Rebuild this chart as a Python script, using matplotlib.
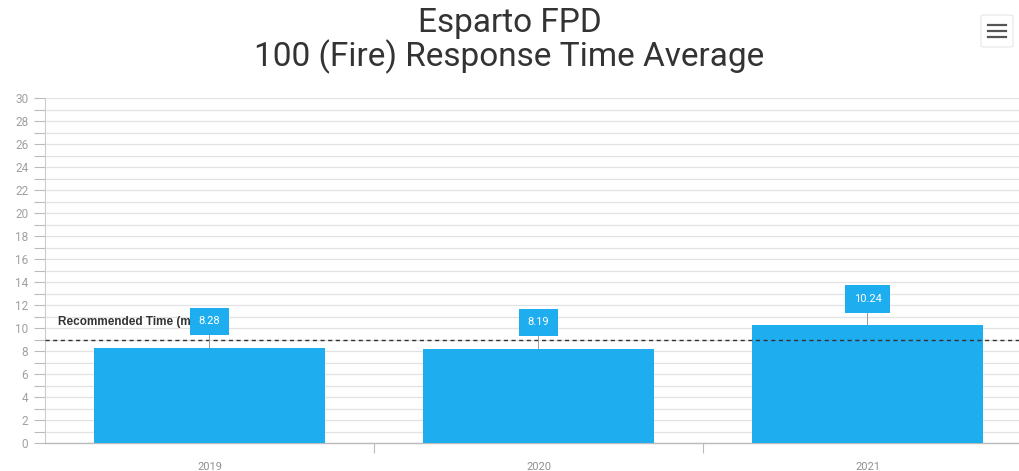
import matplotlib
matplotlib.use("Agg")
import matplotlib.pyplot as plt
from matplotlib.patches import FancyBboxPatch
from matplotlib.lines import Line2D
import numpy as np

plt.rcParams['font.family'] = ['Roboto', 'DejaVu Sans']

categories = ["2019", "2020", "2021"]
values = [8.28, 8.19, 10.24]
value_labels = ["8.28", "8.19", "10.24"]
recommended = 9
recommended_label = "Recommended Time (minutes)"
title_lines = ["Esparto FPD", "100 (Fire) Response Time Average"]
y_ticks = list(range(0, 31, 2))

W, H = 1019, 471
fig = plt.figure(figsize=(W / 100, H / 100), dpi=100)
fig.patch.set_facecolor("white")

left, right, top, bottom = 45, 1032, 98, 443
ax = fig.add_axes([left / W, (H - bottom) / H, (right - left) / W, (bottom - top) / H])

bar_color = "#1eaef0"
x = np.arange(len(categories))
ax.bar(x, values, width=0.7, color=bar_color, zorder=3)

ax.set_xlim(-0.5, len(categories) - 0.5)
ax.set_ylim(0, 30)

# grid
ax.set_yticks(y_ticks)
ax.set_yticks(range(0, 31), minor=True)
ax.yaxis.grid(True, which="both", color="#e2e2e2", lw=0.9, zorder=0)
ax.tick_params(axis="y", which="both", direction="out", length=8, color="#bbbbbb",
               width=0.8, labelsize=8.5, labelcolor="#a0a0a0", pad=4)

ax.set_xticks(x)
ax.set_xticklabels(categories)
ax.set_xticks(np.arange(len(categories) - 1) + 0.5, minor=True)
ax.tick_params(axis="x", which="major", length=0, labelsize=8, labelcolor="#909090", pad=14)
ax.tick_params(axis="x", which="minor", length=7, color="#bbbbbb", width=0.8)

for s in ["top", "right"]:
    ax.spines[s].set_visible(False)
ax.spines["left"].set_color("#cccccc")
ax.spines["bottom"].set_color("#bbbbbb")
ax.spines["left"].set_linewidth(0.8)
ax.spines["bottom"].set_linewidth(1.0)

# recommended line
ax.axhline(recommended, color="#333333", lw=1.0, ls=(0, (3, 2.5)), zorder=4)
ax.annotate(recommended_label, xy=(-0.5, recommended), xytext=(9, 8),
            textcoords="offset points", fontsize=8.5, fontweight="bold",
            family=["Liberation Sans", "DejaVu Sans"],
            color="#333333", ha="left", va="bottom", zorder=4)

# data labels
for xi, v, lab in zip(x, values, value_labels):
    ax.annotate(lab, xy=(xi, v), xytext=(0, 19), textcoords="offset points",
                ha="center", va="center", fontsize=8, color="white", zorder=6,
                bbox=dict(boxstyle="square,pad=0.8", fc=bar_color, ec="none"),
                arrowprops=dict(arrowstyle="-", color="#999999", lw=0.7,
                                shrinkA=0, shrinkB=0))

# titles
fig.text(0.5, 1 - 23 / H, title_lines[0], ha="center", va="center",
         fontsize=24, color="#333333")
fig.text(0.5, 1 - 57 / H, title_lines[1], ha="center", va="center",
         fontsize=24, color="#333333")

# hamburger menu icon
bx, by, bw, bh = 981, 15, 32, 32
fig.patches.append(FancyBboxPatch((bx / W, 1 - (by + bh) / H), bw / W, bh / H,
                                  boxstyle="round,pad=0,rounding_size=0.003",
                                  transform=fig.transFigure, fc="white",
                                  ec="#e6e6e6", lw=0.8))
for yy in [25, 31, 37]:
    fig.lines.append(Line2D([988 / W, 1006 / W], [1 - yy / H, 1 - yy / H],
                            transform=fig.transFigure, color="#555555", lw=1.6))

fig.savefig("out.png", dpi=100)
